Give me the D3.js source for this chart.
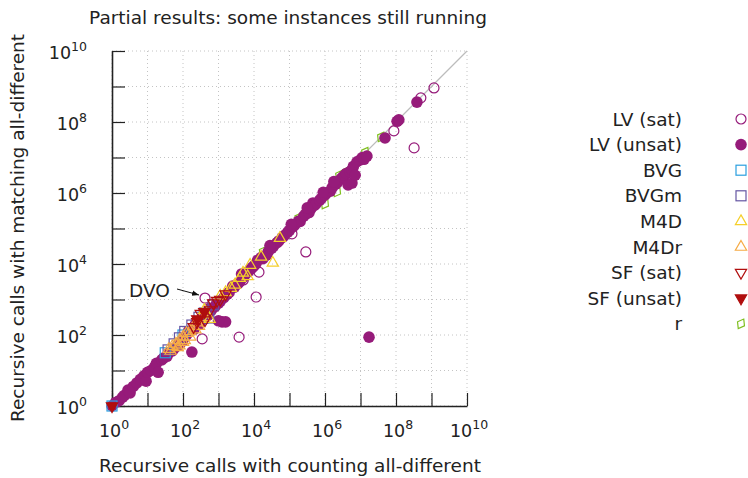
<!DOCTYPE html>
<html>
<head>
<meta charset="utf-8">
<script src="https://cdn.jsdelivr.net/npm/d3@7"></script>
<style>
  body { margin: 0; background: #fff; }
  text { font-family: "DejaVu Sans", sans-serif; fill: #222; }
</style>
</head>
<body>
<svg id="chart" width="748" height="478"></svg>
<script>
// data: [log10 counting calls, log10 matching calls]
var tickExps = [0, 2, 4, 6, 8, 10];
var gridExps = [0, 1, 2, 3, 4, 5, 6, 7, 8, 9, 10];

var rPts = [[7.58, 7.58], [7.13, 7.15], [6.34, 6.03], [6.0, 5.69], [5.44, 5.44], [5.25, 5.3],
    [4.39, 4.28], [4.25, 4.35], [6.4, 6.5], [3.0, 2.95], [4.6, 4.6], [5.8, 5.75], [6.6, 6.6]];
var lvUnsat = [[0, 0], [0.1, 0.1], [0.2, 0.15], [0.3, 0.25], [0.35, 0.3], [0.45, 0.45], [0.51, 0.37],
    [0.6, 0.55], [0.7, 0.65], [0.8, 0.75], [0.9, 0.85], [0.96, 0.7], [1.0, 0.95], [1.1, 1.0],
    [1.2, 1.1], [1.25, 1.2], [1.3, 0.95], [1.4, 1.3], [1.45, 1.35], [1.55, 1.4], [1.6, 1.5],
    [1.7, 1.55], [1.75, 1.62], [1.85, 1.7], [1.95, 1.8], [2.0, 1.85], [2.1, 2.0], [2.15, 2.1],
    [2.25, 1.52], [2.3, 2.15], [2.35, 2.3], [2.45, 2.3], [2.55, 2.5], [2.6, 2.45], [2.7, 2.55],
    [2.75, 2.75], [2.8, 2.7], [2.9, 2.8], [2.95, 2.9], [3.0, 2.9], [3.05, 2.95], [3.1, 2.37],
    [3.2, 2.37], [3.0, 2.4], [3.15, 3.05], [3.25, 3.15], [3.3, 3.2], [3.4, 3.38], [3.45, 3.35],
    [3.55, 3.45], [3.6, 3.5], [3.7, 3.62], [3.75, 3.7], [3.85, 3.8], [3.9, 3.85], [3.95, 3.9],
    [4.0, 3.95], [4.05, 4.0], [4.1, 4.1], [4.2, 4.18], [4.25, 4.15], [4.35, 4.25], [4.4, 4.35],
    [4.5, 4.45], [4.55, 4.5], [4.65, 4.6], [4.7, 4.65], [4.8, 4.75], [4.85, 4.8], [4.95, 4.9],
    [5.0, 4.95], [5.1, 5.05], [5.15, 5.1], [5.25, 5.2], [5.3, 5.2], [5.4, 5.35], [5.45, 5.4],
    [5.55, 5.45], [5.6, 5.55], [5.66, 5.72], [5.7, 5.65], [5.75, 5.7], [5.85, 5.8], [5.9, 5.85],
    [6.0, 5.95], [6.05, 6.0], [6.15, 6.05], [6.2, 6.15], [6.3, 6.25], [6.35, 6.3], [6.45, 6.4],
    [6.5, 6.45], [6.55, 6.5], [6.6, 6.55], [6.7, 6.6], [6.76, 6.65], [6.8, 6.75], [6.65, 6.23],
    [6.76, 6.28], [6.85, 6.5], [6.9, 6.88], [6.99, 6.93], [7.05, 7.0], [7.1, 6.95], [7.18, 7.04],
    [5.05, 5.12], [5.5, 5.58], [5.95, 6.02], [4.45, 4.52], [3.65, 3.72], [6.25, 6.32],
    [7.24, 1.94], [7.69, 7.55], [8.03, 8.02], [8.08, 8.06], [8.59, 8.56]];
var lvSat = [[9.07, 8.96], [8.70, 8.68], [7.94, 7.75], [8.51, 7.27], [5.46, 4.34], [2.62, 3.04],
    [4.06, 3.07], [2.54, 1.89], [3.58, 1.94], [4.14, 3.77], [5.07, 4.85], [3.7, 3.55]];
var bvg = [[0, 0], [1.5, 1.5], [2.0, 2.0]];
var bvgm = [[1.58, 1.58], [1.75, 1.75], [1.9, 1.92], [2.05, 2.1], [2.25, 2.28], [2.45, 2.5],
    [2.73, 2.48], [2.6, 2.62], [2.85, 2.85]];
var m4dr = [[1.6, 1.6], [1.65, 1.55], [1.7, 1.68], [1.8, 1.75], [1.85, 1.65], [1.9, 1.85],
    [2.0, 1.95], [2.05, 1.85], [2.1, 2.05], [2.2, 2.1], [2.3, 2.25], [2.35, 2.15], [2.4, 2.35],
    [2.5, 2.45], [2.6, 2.5], [2.0, 1.8], [2.2, 1.95], [1.9, 1.7], [2.45, 2.25]];
var m4d = [[4.73, 4.73], [4.2, 4.2], [4.53, 4.03], [3.89, 3.97], [3.69, 3.75], [3.82, 3.65],
    [3.46, 3.41], [3.2, 3.2], [3.35, 3.32], [2.75, 2.45], [3.6, 3.6], [3.05, 3.1], [2.6, 2.7]];
var sfSat = [[2.76, 2.7], [2.96, 2.97], [2.62, 2.42], [2.4, 2.37], [2.3, 2.23], [2.85, 2.9],
    [3.05, 3.0], [2.5, 2.6], [3.2, 3.15]];
var sfUnsat = [[0, 0], [2.6, 2.65], [2.4, 2.45]];

var svg = d3.select("#chart");
var plotLeft = 112, plotRight = 467, plotTop = 51, plotBottom = 406;

var x = d3.scaleLog().domain([1, 1e10]).range([plotLeft, plotRight]);
var y = d3.scaleLog().domain([1, 1e10]).range([plotBottom, plotTop]);
var px = function(d) { return x(Math.pow(10, d[0])); };
var py = function(d) { return y(Math.pow(10, d[1])); };

// grid
var grid = svg.append("g").attr("stroke", "#c4c4c4").attr("stroke-dasharray", "1,3");
gridExps.forEach(function(e) {
    var v = Math.pow(10, e);
    grid.append("line").attr("x1", x(v)).attr("x2", x(v)).attr("y1", plotTop).attr("y2", plotBottom);
    grid.append("line").attr("x1", plotLeft).attr("x2", plotRight).attr("y1", y(v)).attr("y2", y(v));
});

// diagonal
svg.append("line")
    .attr("x1", x(1)).attr("y1", y(1)).attr("x2", x(1e10)).attr("y2", y(1e10))
    .attr("stroke", "#bcbcbc").attr("stroke-width", 1.2);

// axes: ticks pointing inwards
var tickVals = gridExps.map(function(e) { return Math.pow(10, e); });
var xAxis = d3.axisBottom(x).tickValues(tickVals).tickSizeInner(-13).tickSizeOuter(0).tickFormat("");
var yAxis = d3.axisLeft(y).tickValues(tickVals).tickSizeInner(-13).tickSizeOuter(0).tickFormat("");
var gx = svg.append("g").attr("transform", "translate(0," + plotBottom + ")").call(xAxis);
var gy = svg.append("g").attr("transform", "translate(" + plotLeft + ",0)").call(yAxis);
[gx, gy].forEach(function(g) {
    g.select(".domain").attr("stroke", "#222").attr("stroke-width", 1.6);
    g.selectAll(".tick line").attr("stroke", "#222").attr("stroke-width", 1.2);
});

var powLabel = function(sel, e) {
    sel.append("tspan").text("10");
    sel.append("tspan").attr("dy", -8).attr("font-size", 12.5).text(e);
};
tickExps.forEach(function(e) {
    var v = Math.pow(10, e);
    svg.append("text").attr("x", x(v) + 2).attr("y", 437).attr("text-anchor", "middle")
        .attr("font-size", 17.5).call(powLabel, e);
    svg.append("text").attr("x", 87).attr("y", y(v) + 8).attr("text-anchor", "end")
        .attr("font-size", 17.5).call(powLabel, e);
});

// titles
svg.append("text").attr("x", 288).attr("y", 24).attr("text-anchor", "middle")
    .attr("font-size", 18.5).text("Partial results: some instances still running");
svg.append("text").attr("x", 290).attr("y", 472).attr("text-anchor", "middle")
    .attr("font-size", 18.5).text("Recursive calls with counting all-different");
svg.append("text").attr("transform", "translate(24,228) rotate(-90)").attr("text-anchor", "middle")
    .attr("font-size", 18.5).text("Recursive calls with matching all-different");

// series
var tri = d3.symbol().type(d3.symbolTriangle).size(55);
var series = [
    { name: "r", data: rPts, kind: "diamond", color: "#7fbf1f" },
    { name: "LV (unsat)", data: lvUnsat, kind: "dot", color: "#961b7a" },
    { name: "LV (sat)", data: lvSat, kind: "circle", color: "#961b7a" },
    { name: "BVG", data: bvg, kind: "square", color: "#2a9fdf" },
    { name: "BVGm", data: bvgm, kind: "square", color: "#6556a3" },
    { name: "M4Dr", data: m4dr, kind: "tri", color: "#f6ab45" },
    { name: "M4D", data: m4d, kind: "tri", color: "#f5cf2a" },
    { name: "SF (sat)", data: sfSat, kind: "tridown", color: "#b00e0e" },
    { name: "SF (unsat)", data: sfUnsat, kind: "tridownfill", color: "#b00e0e" }
];

var drawMark = function(g, kind, color, cx, cy) {
    if (kind === "dot") {
        g.append("circle").attr("cx", cx).attr("cy", cy).attr("r", 5.8).attr("fill", color);
    } else if (kind === "circle") {
        g.append("circle").attr("cx", cx).attr("cy", cy).attr("r", 5)
            .attr("fill", "none").attr("stroke", color).attr("stroke-width", 1.2);
    } else if (kind === "square") {
        g.append("rect").attr("x", cx - 5).attr("y", cy - 5).attr("width", 10).attr("height", 10)
            .attr("fill", "none").attr("stroke", color).attr("stroke-width", 1.2);
    } else if (kind === "diamond") {
        g.append("path").attr("d", "M" + cx + "," + (cy - 5.5) + "l4,5.5l-4,5.5l-4,-5.5z")
            .attr("transform", "rotate(30," + cx + "," + cy + ")")
            .attr("fill", "none").attr("stroke", color).attr("stroke-width", 1.2);
    } else {
        var down = kind !== "tri";
        g.append("path").attr("d", tri())
            .attr("transform", "translate(" + cx + "," + cy + ")" + (down ? " rotate(180)" : ""))
            .attr("fill", kind === "tridownfill" ? color : "none")
            .attr("stroke", color).attr("stroke-width", 1.2);
    }
};

var marks = svg.append("g");
series.forEach(function(s) {
    var g = marks.append("g").attr("class", "series");
    s.data.forEach(function(d) { drawMark(g, s.kind, s.color, px(d), py(d)); });
});

// annotation
svg.append("defs").append("marker").attr("id", "arrow").attr("viewBox", "0 0 10 10")
    .attr("refX", 10).attr("refY", 5).attr("markerWidth", 7).attr("markerHeight", 7)
    .attr("orient", "auto").append("path").attr("d", "M0,1L10,5L0,9z").attr("fill", "#111");
svg.append("text").attr("x", 129).attr("y", 297).attr("font-size", 18.5).text("DVO");
svg.append("line").attr("x1", 177).attr("y1", 289).attr("x2", 199).attr("y2", 295)
    .attr("stroke", "#111").attr("stroke-width", 1).attr("marker-end", "url(#arrow)");

// legend
var legendOrder = ["LV (sat)", "LV (unsat)", "BVG", "BVGm", "M4D", "M4Dr", "SF (sat)", "SF (unsat)", "r"];
var legend = svg.append("g");
legendOrder.forEach(function(name, i) {
    var s = series.find(function(t) { return t.name === name; });
    var ly = 119 + i * 25.6;
    legend.append("text").attr("x", 682).attr("y", ly + 6.5).attr("text-anchor", "end")
        .attr("font-size", 18.5).text(name);
    drawMark(legend, s.kind, s.color, 741, ly);
});
</script>
</body>
</html>
